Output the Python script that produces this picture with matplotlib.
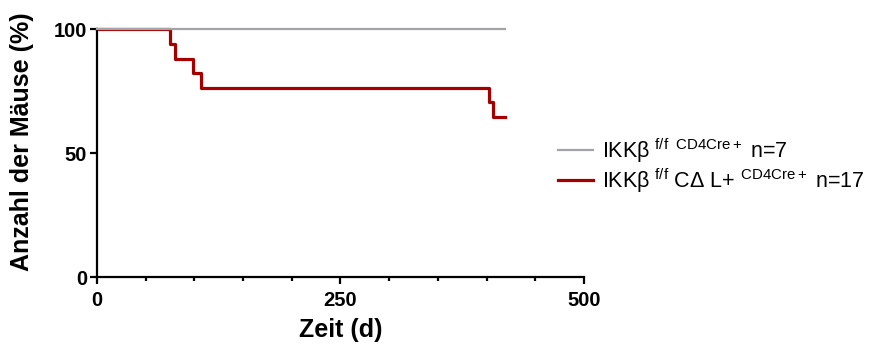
import matplotlib
matplotlib.use('Agg')
import matplotlib.pyplot as plt
from matplotlib.ticker import MultipleLocator

# --- Daten (Kaplan-Meier) ---
t_ctrl = [0, 419]
s_ctrl = [100, 100]
t_ko = [0, 75, 80, 99, 107, 402, 407, 419]
s_ko = [100, 94.1, 88.2, 82.4, 76.5, 70.6, 64.7, 64.7]

lab_ctrl = r'IKK$\beta^{\mathrm{\ f/f\ \ CD4Cre+}}$ n=7'
lab_ko = r'IKK$\beta^{\mathrm{\ f/f}}$ C$\Delta$ L+ $^{\mathrm{CD4Cre+}}$ n=17'

plt.rcParams['font.family'] = ['Liberation Sans', 'DejaVu Sans']
plt.rcParams['mathtext.fontset'] = 'custom'
plt.rcParams['mathtext.rm'] = 'Liberation Sans'
plt.rcParams['mathtext.it'] = 'Liberation Sans'
plt.rcParams['mathtext.bf'] = 'Liberation Sans:bold'

fig = plt.figure(figsize=(8.73, 3.47), dpi=100)
ax = fig.add_axes([0.111, 0.2017, 0.558, 0.7138])

ax.plot(t_ko, s_ko, drawstyle='steps-post', color='#a50000', linewidth=2.3,
        clip_on=False, label=lab_ko, zorder=2)
ax.plot(t_ctrl, s_ctrl, drawstyle='steps-post', color='#a3a3a8', linewidth=1.6,
        clip_on=False, label=lab_ctrl, zorder=3)

ax.set_xlim(0, 500)
ax.set_ylim(0, 100)
ax.set_xticks([0, 250, 500])
ax.xaxis.set_minor_locator(MultipleLocator(50))
ax.set_yticks([0, 50, 100])
for s in ['top', 'right']:
    ax.spines[s].set_visible(False)
for s in ['left', 'bottom']:
    ax.spines[s].set_linewidth(1.6)
ax.tick_params(which='major', length=5, width=1.6, labelsize=14.5, pad=2)
ax.tick_params(axis='x', which='major', pad=5)
ax.tick_params(which='minor', length=3, width=1.6)
for lbl in ax.get_xticklabels() + ax.get_yticklabels():
    lbl.set_fontweight('bold')

ax.set_xlabel('Zeit (d)', fontsize=18, fontweight='bold')
ax.set_ylabel('Anzahl der Mäuse (%)', fontsize=18, fontweight='bold')
ax.xaxis.set_label_coords(0.5, -0.165)
ax.yaxis.set_label_coords(-0.13, 0.545)

h, l = ax.get_legend_handles_labels()
ax.legend(h[::-1], l[::-1], loc='center left', bbox_to_anchor=(0.947, 0.45),
          frameon=False, fontsize=15.5, handlelength=1.6, handletextpad=0.45,
          labelspacing=0.05, borderaxespad=0, borderpad=0)

fig.savefig('out.png', dpi=100)
